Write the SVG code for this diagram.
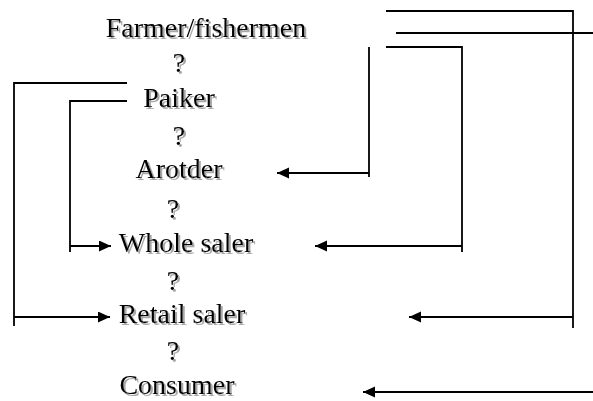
<svg xmlns="http://www.w3.org/2000/svg" width="593" height="401" viewBox="0 0 593 401">
<defs>
<style>
text{font-family:"Liberation Serif","DejaVu Serif","Times New Roman",serif;font-size:28px;text-anchor:middle;fill:#000;filter:url(#sh)}
.c{stroke:#000;stroke-width:1.8;fill:none}
</style>
<filter id="sh" x="-5%" y="-20%" width="115%" height="150%">
<feOffset in="SourceAlpha" dx="1.5" dy="1.5" result="o"/>
<feFlood flood-color="#a8a8a8"/>
<feComposite in2="o" operator="in" result="g"/>
<feMerge><feMergeNode in="g"/><feMergeNode in="SourceGraphic"/></feMerge>
</filter>
<marker id="ah" markerUnits="userSpaceOnUse" markerWidth="14" markerHeight="12" refX="12" refY="5.5" orient="auto">
<path d="M0,0 L12,5.5 L0,11 z" fill="#000"/>
</marker>
</defs>
<rect width="593" height="401" fill="#fff"/>
<g id="farmer"><text x="206" y="37">Farmer/fishermen</text></g>
<g id="q1"><text x="179" y="72">?</text></g>
<g id="paiker"><text x="179" y="107">Paiker</text></g>
<g id="q2"><text x="179" y="145">?</text></g>
<g id="arotder"><text x="179" y="178">Arotder</text></g>
<g id="q3"><text x="173" y="218">?</text></g>
<g id="wholesaler"><text x="186" y="252">Whole saler</text></g>
<g id="q4"><text x="173" y="290">?</text></g>
<g id="retailsaler"><text x="182" y="323">Retail saler</text></g>
<g id="q5"><text x="173" y="360">?</text></g>
<g id="consumer"><text x="177" y="394">Consumer</text></g>
<g id="connectors">
<polyline class="c" points="127,83 14,83 14,326"/>
<line class="c" x1="14" y1="317" x2="110" y2="317" marker-end="url(#ah)"/>
<polyline class="c" points="127,101 70,101 70,252"/>
<line class="c" x1="70" y1="246" x2="111" y2="246" marker-end="url(#ah)"/>
<polyline class="c" points="386,11 573,11 573,328"/>
<line class="c" x1="573" y1="317" x2="409" y2="317" marker-end="url(#ah)"/>
<line class="c" x1="396" y1="33" x2="593" y2="33"/>
<line class="c" x1="593" y1="392" x2="363" y2="392" marker-end="url(#ah)"/>
<polyline class="c" points="386,47 462,47 462,252"/>
<line class="c" x1="462" y1="246" x2="315" y2="246" marker-end="url(#ah)"/>
<line class="c" x1="369" y1="47" x2="369" y2="177"/>
<line class="c" x1="369" y1="173" x2="277" y2="173" marker-end="url(#ah)"/>
</g>
</svg>
